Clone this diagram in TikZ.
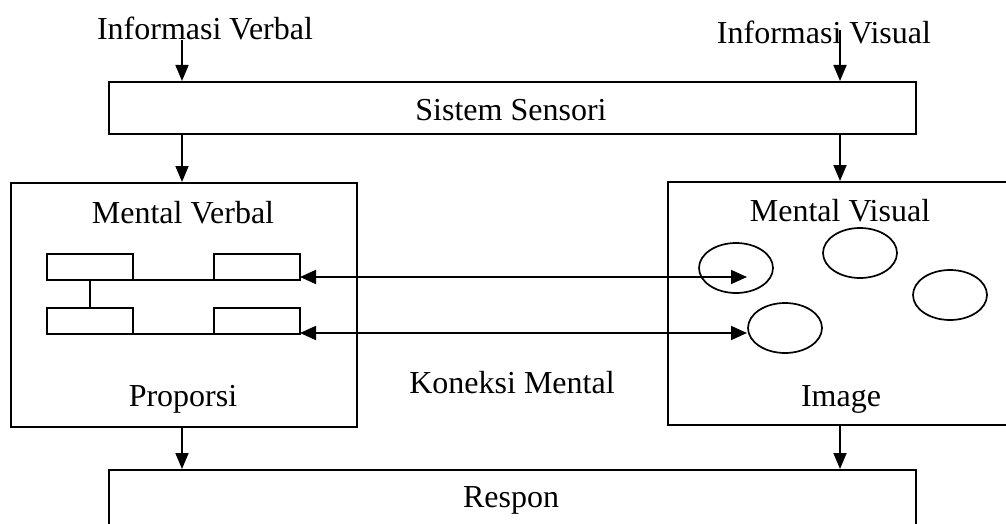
\documentclass[tikz,border=0pt]{standalone}
\usepackage{fontspec}
\setmainfont{Liberation Serif}
\usetikzlibrary{arrows.meta,shapes.geometric}
\begin{document}
\begin{tikzpicture}[x=1pt,y=-1pt,line width=1.7pt,
  arr/.style={-{Triangle[length=16pt,width=13pt]}},
  darr/.style={{Triangle[length=16pt,width=14pt]}-{Triangle[length=16pt,width=14pt]}},
  lbl/.style={font=\fontsize{32}{37}\selectfont,inner sep=0pt},
  bigbox/.style={draw,anchor=north west,inner sep=0pt},
  smallbox/.style={draw,anchor=north west,minimum width=86pt,minimum height=26pt,inner sep=0pt,outer sep=0pt},
  ell/.style={draw,ellipse,minimum width=74pt,minimum height=50pt,inner sep=0pt}]
\useasboundingbox (0,0) rectangle (1006,524);
% boxes
\node[bigbox,minimum width=807pt,minimum height=52pt] (sens) at (108,81) {};
\node[bigbox,minimum width=346pt,minimum height=244pt] (lbox) at (10,182) {};
\node[bigbox,minimum width=345pt,minimum height=243pt] (rbox) at (667,181) {};
\node[bigbox,minimum width=807pt,minimum height=70pt] (resp) at (108,469) {};
% texts
\node[lbl] (iverb) at (205,28) {Informasi Verbal};
\node[lbl] (ivis) at (824,32) {Informasi Visual};
\node[lbl] (tsens) at (511,110) {Sistem Sensori};
\node[lbl] (tmverb) at (183,213) {Mental Verbal};
\node[lbl] (tprop) at (183,399) {Proporsi};
\node[lbl] (tmvis) at (840,211) {Mental Visual};
\node[lbl] (timg) at (841,399) {Image};
\node[lbl] (tkon) at (512,383) {Koneksi Mental};
\node[lbl] (tresp) at (511,500) {Respon};
% small rectangles
\node[smallbox] (r1) at (47,254) {};
\node[smallbox] (r2) at (214,254) {};
\node[smallbox] (r3) at (47,308) {};
\node[smallbox] (r4) at (214,308) {};
\draw (r1.south east) -- (r2.south west);
\draw (r3.south east) -- (r4.south west);
\draw (r1.south) -- (r3.north);
% ellipses
\node[ell] (e1) at (736,268) {};
\node[ell] (e2) at (860,253) {};
\node[ell] (e3) at (950,295) {};
\node[ell] (e4) at (785,328) {};
% arrows
\coordinate (a1) at (182,40);
\coordinate (a2) at (840,30);
\draw[arr] (a1) -- (a1 |- sens.north);
\draw[arr] (a2) -- (a2 |- sens.north);
\draw[arr] (a1 |- sens.south) -- (a1 |- lbox.north);
\draw[arr] (a2 |- sens.south) -- (a2 |- rbox.north);
\draw[arr] (a1 |- lbox.south) -- (a1 |- resp.north);
\draw[arr] (a2 |- rbox.south) -- (a2 |- resp.north);
\coordinate (c1) at (747,277);
\coordinate (c2) at (747,333);
\draw[darr] (r2.east |- c1) -- (c1);
\draw[darr] (r4.east |- c2) -- (c2);
\end{tikzpicture}
\end{document}
